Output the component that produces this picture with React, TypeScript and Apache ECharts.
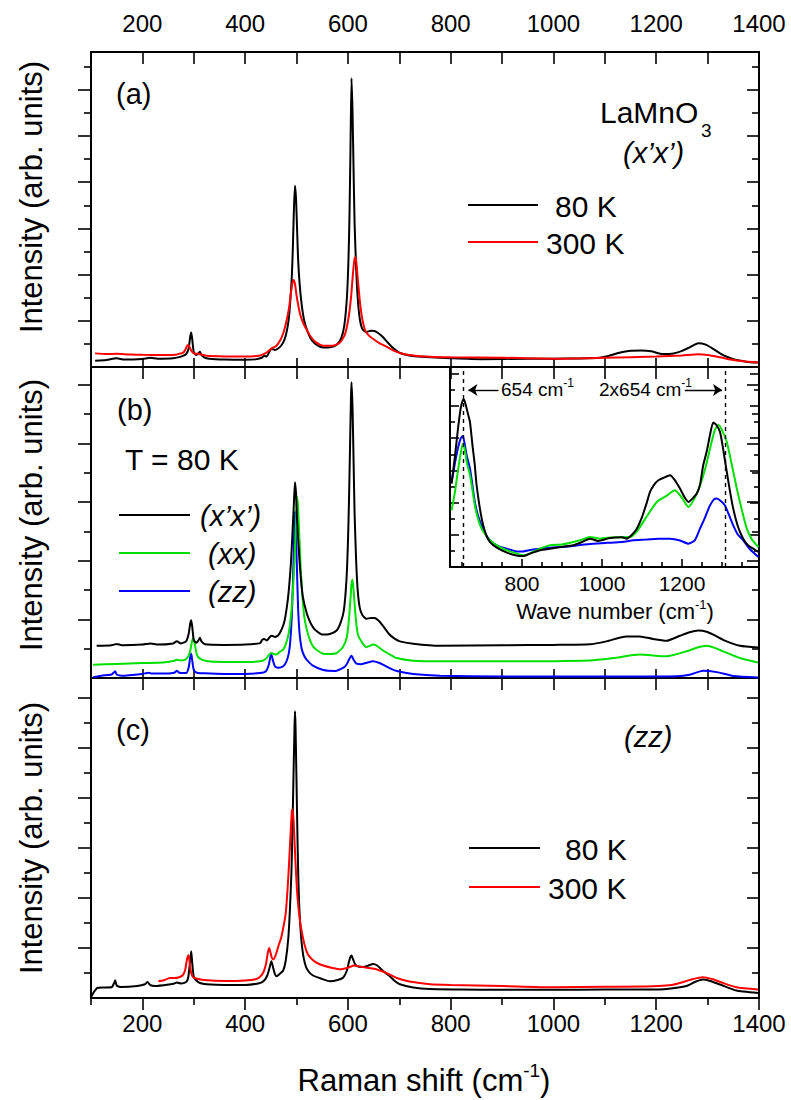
import React, { useEffect, useRef } from 'react';
import * as echarts from 'echarts';

// ---------- DATA (Raman shift in cm-1, intensity in arbitrary units) ----------
// Panel (a): LaMnO3 (x'x'), 80 K and 300 K
const panelA_80K: [number, number][] = [
  [108,0.27],[130,0.30],[150,0.38],[165,0.32],[200,0.35],[215,0.40],[230,0.36],[260,0.38],[275,0.45],[285,0.55],
  [290,0.80],[293,1.30],[295,1.49],[297,1.20],[300,0.65],[305,0.52],[309,0.58],[312,0.66],[315,0.52],[320,0.42],
  [330,0.36],[360,0.32],[400,0.31],[420,0.33],[432,0.40],[437,0.48],[442,0.46],[448,0.70],[452,0.78],[458,0.74],
  [464,0.80],[470,0.92],[476,1.15],[481,1.55],[485,2.1],[488,2.9],[491,4.0],[493,5.3],[495,6.9],[497,7.85],
  [499,7.3],[501,6.0],[503,4.7],[506,3.6],[510,2.7],[515,2.0],[522,1.5],[530,1.15],[540,0.95],[552,0.84],
  [565,0.85],[578,0.96],[587,1.25],[593,1.8],[598,3.0],[601,4.6],[603,6.5],[605,9.5],[607,12.5],[609,11.0],
  [611,8.5],[613,6.2],[616,4.3],[619,3.0],[623,2.1],[628,1.65],[635,1.52],[645,1.57],[652,1.56],[660,1.45],
  [668,1.30],[678,1.05],[688,0.82],[700,0.62],[715,0.52],[730,0.47],[760,0.42],[800,0.38],[860,0.34],[950,0.36],
  [1000,0.36],[1050,0.37],[1090,0.40],[1110,0.50],[1130,0.63],[1150,0.70],[1170,0.71],[1190,0.68],[1213,0.56],
  [1230,0.57],[1250,0.70],[1265,0.85],[1282,1.03],[1295,0.98],[1310,0.80],[1325,0.58],[1340,0.42],[1356,0.30],
  [1375,0.23],[1398,0.19],
];
const panelA_300K: [number, number][] = [
  [108,0.59],[130,0.56],[150,0.57],[175,0.54],[200,0.53],[240,0.52],[265,0.53],[272,0.58],[278,0.60],[283,0.72],
  [286,0.88],[289,0.95],[292,0.85],[296,0.68],[302,0.57],[308,0.58],[312,0.55],[325,0.49],[360,0.46],[400,0.45],
  [429,0.50],[440,0.60],[447,0.72],[452,0.82],[460,0.90],[468,1.15],[474,1.45],[480,1.95],[485,2.5],[489,3.2],
  [492,3.65],[494,3.77],[497,3.6],[500,3.1],[504,2.6],[508,2.2],[514,1.85],[520,1.6],[528,1.3],[536,1.1],
  [552,0.92],[570,0.92],[584,1.05],[594,1.40],[601,2.10],[606,3.0],[610,4.1],[613,4.7],[615,4.75],[617,4.4],
  [620,3.6],[623,2.9],[627,2.2],[633,1.62],[640,1.38],[650,1.20],[662,1.02],[675,0.88],[690,0.70],[710,0.55],
  [740,0.47],[800,0.42],[900,0.40],[1000,0.36],[1100,0.40],[1200,0.45],[1250,0.50],[1282,0.55],[1300,0.52],
  [1324,0.42],[1350,0.30],[1375,0.24],[1398,0.19],
];

// Panel (b): T = 80 K, three polarizations
const panelB_xpxp: [number, number][] = [
  [111,1.10],[140,1.12],[150,1.16],[160,1.12],[200,1.14],[216,1.18],[230,1.14],[260,1.18],[267,1.25],[275,1.18],
  [285,1.25],[290,1.50],[293,1.85],[295,1.97],[297,1.75],[300,1.30],[305,1.20],[309,1.28],[312,1.37],[315,1.25],
  [322,1.15],[360,1.13],[400,1.14],[429,1.19],[433,1.30],[437,1.33],[442,1.28],[448,1.40],[452,1.44],[458,1.40],
  [464,1.45],[470,1.62],[476,1.90],[481,2.40],[485,3.0],[489,3.9],[492,4.9],[495,6.0],[497,6.68],[499,6.3],
  [501,5.4],[504,4.5],[507,3.7],[512,2.8],[520,2.2],[528,1.85],[536,1.65],[552,1.48],[565,1.50],[578,1.62],
  [586,1.90],[592,2.3],[597,3.3],[600,4.6],[602,6.0],[604,7.8],[606,9.6],[607,10.09],[609,9.2],[611,7.4],
  [613,5.6],[616,4.0],[619,3.0],[623,2.4],[628,2.15],[636,2.02],[645,2.05],[652,2.05],[660,1.95],[669,1.76],
  [680,1.50],[690,1.35],[701,1.25],[727,1.17],[779,1.10],[900,1.12],[1000,1.13],[1071,1.15],[1103,1.25],
  [1142,1.42],[1168,1.42],[1194,1.33],[1220,1.27],[1246,1.44],[1265,1.56],[1282,1.62],[1298,1.58],[1311,1.48],
  [1337,1.25],[1363,1.10],[1398,1.04],
];
const panelB_xx: [number, number][] = [
  [104,0.45],[150,0.48],[200,0.51],[240,0.53],[260,0.58],[267,0.62],[275,0.60],[285,0.64],[292,0.85],[296,1.20],
  [299,1.37],[302,1.15],[306,0.80],[312,0.66],[325,0.58],[360,0.55],[400,0.55],[429,0.57],[440,0.65],[447,0.80],
  [451,0.85],[456,0.82],[461,0.80],[468,0.90],[474,0.97],[480,1.20],[485,1.55],[489,2.1],[493,3.0],[496,4.0],
  [499,5.3],[501,6.18],[503,5.8],[506,4.6],[508,3.8],[511,2.9],[515,2.1],[520,1.65],[526,1.30],[532,1.08],
  [542,0.92],[552,0.83],[565,0.82],[578,0.85],[590,1.05],[598,1.40],[602,2.0],[605,2.7],[607,3.2],[609,3.35],
  [611,3.0],[614,2.3],[617,1.75],[620,1.45],[628,1.20],[636,1.05],[643,1.10],[649,1.14],[656,1.10],[669,0.93],
  [682,0.80],[695,0.68],[727,0.59],[779,0.57],[900,0.57],[1071,0.60],[1116,0.68],[1168,0.80],[1220,0.74],
  [1259,0.91],[1280,1.04],[1298,1.10],[1315,1.02],[1330,0.91],[1363,0.68],[1398,0.53],
];
const panelB_zz: [number, number][] = [
  [104,0.03],[120,0.08],[140,0.12],[145,0.20],[147,0.23],[150,0.12],[160,0.08],[200,0.14],[212,0.18],[218,0.15],
  [240,0.15],[262,0.18],[267,0.25],[272,0.18],[285,0.17],[290,0.35],[293,0.70],[295,0.83],[297,0.60],[300,0.28],
  [306,0.18],[320,0.16],[360,0.14],[400,0.14],[429,0.17],[440,0.22],[446,0.45],[449,0.72],[451,0.80],[454,0.60],
  [458,0.40],[465,0.35],[474,0.40],[480,0.55],[485,0.85],[488,1.3],[491,2.2],[493,3.3],[495,4.6],[497,5.69],
  [499,4.9],[501,3.6],[503,2.4],[506,1.5],[510,1.0],[515,0.75],[520,0.62],[532,0.42],[552,0.27],[575,0.24],
  [592,0.36],[598,0.48],[603,0.66],[607,0.76],[611,0.62],[616,0.50],[625,0.47],[636,0.52],[649,0.57],[660,0.52],
  [669,0.45],[682,0.33],[695,0.24],[727,0.14],[779,0.08],[900,0.05],[1100,0.05],[1240,0.06],[1265,0.11],
  [1291,0.25],[1318,0.20],[1350,0.07],[1398,0.02],
];

// Panel (c): (zz), 80 K and 300 K
const panelC_80K: [number, number][] = [
  [101,0.07],[106,0.25],[112,0.40],[125,0.42],[140,0.43],[145,0.60],[147,0.71],[150,0.50],[158,0.44],[190,0.48],
  [205,0.55],[210,0.64],[215,0.52],[225,0.48],[255,0.55],[262,0.58],[267,0.62],[275,0.58],[285,0.64],[289,0.80],
  [292,1.30],[295,1.87],[297,1.40],[300,0.85],[305,0.70],[312,0.60],[325,0.55],[360,0.52],[400,0.52],[429,0.60],
  [437,0.70],[443,0.90],[448,1.25],[451,1.47],[454,1.25],[458,0.95],[461,0.87],[468,0.98],[474,1.10],[479,1.50],
  [484,2.4],[487,3.5],[490,5.0],[492,6.7],[494,8.8],[496,10.8],[497,11.47],[498,10.9],[500,8.6],[502,6.2],
  [504,4.4],[507,3.0],[511,2.0],[516,1.40],[522,1.10],[532,0.90],[550,0.76],[565,0.67],[580,0.72],[591,0.82],
  [598,1.10],[602,1.45],[605,1.65],[607,1.70],[610,1.55],[614,1.35],[620,1.26],[630,1.24],[640,1.30],[649,1.36],
  [657,1.30],[669,1.07],[680,0.90],[690,0.70],[701,0.55],[727,0.42],[760,0.36],[820,0.34],[900,0.33],[1000,0.33],
  [1100,0.34],[1194,0.34],[1220,0.36],[1259,0.48],[1275,0.64],[1291,0.74],[1305,0.68],[1324,0.54],[1356,0.30],
  [1398,0.20],
];
const panelC_300K: [number, number][] = [
  [231,0.67],[240,0.70],[254,0.80],[262,0.80],[270,0.82],[278,0.90],[283,1.10],[286,1.45],[289,1.71],[291,1.60],
  [294,1.10],[298,0.85],[305,0.78],[320,0.72],[360,0.68],[400,0.70],[420,0.75],[429,0.85],[436,1.05],[441,1.40],
  [444,1.80],[447,2.00],[449,1.85],[452,1.60],[455,1.54],[460,1.75],[465,2.10],[470,2.40],[475,2.90],[479,3.40],
  [483,4.5],[486,5.6],[489,6.8],[491,7.5],[492,7.54],[494,7.2],[496,6.3],[499,5.0],[502,4.0],[506,3.2],
  [510,2.67],[516,2.10],[522,1.75],[530,1.55],[540,1.40],[552,1.30],[570,1.20],[586,1.15],[598,1.20],[605,1.25],
  [611,1.30],[625,1.25],[640,1.20],[655,1.15],[669,1.05],[680,0.95],[695,0.80],[720,0.66],[760,0.55],[800,0.52],
  [900,0.48],[999,0.43],[1100,0.45],[1194,0.47],[1230,0.52],[1246,0.60],[1270,0.75],[1291,0.83],[1310,0.75],
  [1330,0.60],[1356,0.43],[1398,0.34],
];

// Inset: wave number (cm-1), 80 K
const inset_xpxp: [number, number][] = [
  [624,5.18],[632,6.8],[640,8.6],[647,9.9],[652,10.35],[655,10.4],[660,10.0],[665,9.5],[670,9.0],[676,7.6],
  [682,6.32],[686,5.2],[691,4.25],[697,3.3],[703,2.59],[711,1.95],[720,1.55],[737,1.20],[762,0.89],[780,0.75],
  [795,0.68],[808,0.70],[820,0.83],[845,1.04],[870,1.14],[900,1.25],[928,1.35],[950,1.55],[970,1.76],[990,1.62],
  [1020,1.80],[1050,1.85],[1062,1.76],[1075,2.0],[1087,2.38],[1100,3.1],[1112,4.0],[1120,4.66],[1130,5.1],
  [1141,5.39],[1155,5.55],[1170,5.70],[1182,5.40],[1195,4.87],[1206,4.35],[1216,4.04],[1228,4.3],[1237,4.56],
  [1245,5.1],[1253,6.32],[1262,7.2],[1270,8.2],[1278,8.97],[1285,8.85],[1295,8.39],[1303,7.3],[1312,5.9],
  [1320,4.7],[1328,3.63],[1340,2.5],[1353,1.76],[1365,1.35],[1378,1.14],[1391,0.93],
];
const inset_xx: [number, number][] = [
  [624,3.52],[632,4.6],[640,6.0],[647,7.1],[652,7.66],[657,7.3],[662,6.5],[670,5.7],[676,4.8],[682,3.83],
  [690,3.0],[699,2.38],[710,1.95],[720,1.66],[740,1.30],[762,1.04],[785,0.85],[803,0.73],[820,0.85],[845,1.14],
  [870,1.35],[900,1.40],[928,1.55],[950,1.70],[970,1.86],[995,1.76],[1030,1.85],[1070,1.86],[1087,2.2],
  [1103,2.80],[1120,3.45],[1137,4.04],[1160,4.4],[1182,4.76],[1200,4.3],[1216,3.73],[1230,4.2],[1245,5.07],
  [1258,6.1],[1270,7.35],[1282,8.5],[1291,8.84],[1300,8.5],[1312,7.76],[1325,6.3],[1337,4.87],[1350,3.5],
  [1362,2.38],[1375,1.7],[1391,1.24],
];
const inset_zz: [number, number][] = [
  [624,5.28],[632,6.4],[640,7.4],[647,8.0],[652,8.14],[657,7.6],[662,6.9],[670,6.11],[676,5.1],[682,4.04],
  [690,3.2],[699,2.59],[710,2.0],[720,1.66],[740,1.30],[762,1.14],[787,0.97],[803,0.97],[820,1.05],[845,1.14],
  [870,1.20],[900,1.24],[928,1.30],[950,1.38],[978,1.45],[1012,1.50],[1050,1.55],[1078,1.66],[1110,1.70],
  [1140,1.75],[1170,1.76],[1195,1.65],[1216,1.45],[1232,1.65],[1245,2.38],[1258,3.1],[1270,3.83],[1280,4.2],
  [1287,4.25],[1297,4.1],[1307,3.83],[1318,3.2],[1328,2.59],[1340,2.0],[1353,1.66],[1370,1.1],[1391,0.62],
];

// Tick values
const mainTopTicks = [200, 300, 400, 500, 600, 700, 800, 900, 1000, 1100, 1200, 1300];
const mainTickLabels = [200, 400, 600, 800, 1000, 1200, 1400];
const mainBottomMinor = [100, 300, 500, 700, 900, 1100, 1300];
const mainBottomMajor = [200, 400, 600, 800, 1000, 1200, 1400];
const insetMinorTicks = [650, 700, 750, 850, 900, 950, 1050, 1100, 1150, 1250, 1300, 1350];
const insetMajorTicks = [800, 1000, 1200];
const insetDashed = [654, 1308];

// ---------- STYLE ----------
const FONT = "'Liberation Sans', Arial, Helvetica, sans-serif";
const BLACK = '#000000';
const RED = '#ff0000';
const GREEN = '#00e000';
const BLUE = '#0000ff';

const GRIDS = [
  { left: 91, top: 52, width: 668, height: 315 },
  { left: 91, top: 367, width: 668, height: 311 },
  { left: 91, top: 678, width: 668, height: 320 },
  { left: 450, top: 367, width: 309, height: 200 },
];
const YMAX = [13.64, 10.61, 12.8, 12.42];

function ints(from: number, to: number, step: number): number[] {
  const r: number[] = [];
  for (let v = from; v <= to; v += step) r.push(v);
  return r;
}

const plain = (v: number) => String(v);

function xAx(grid: number, position: 'top' | 'bottom', min: number, max: number, ticks: number[] | null,
  inside: boolean, len: number, labels?: number[], labelSize?: number, margin?: number) {
  return {
    type: 'value', gridIndex: grid, position, min, max,
    axisLine: { show: true, onZero: false, lineStyle: { color: BLACK, width: 2 } },
    splitLine: { show: false },
    axisTick: ticks ? { show: true, inside, length: len, customValues: ticks, lineStyle: { color: BLACK, width: 1.6 } } : { show: false },
    axisLabel: labels
      ? { show: true, customValues: labels, formatter: plain, fontSize: labelSize, fontFamily: FONT, color: BLACK, margin }
      : { show: false },
  };
}
function yAx(grid: number, position: 'left' | 'right', max: number, ticks: number[], inside: boolean, len: number) {
  return {
    type: 'value', gridIndex: grid, position, min: 0, max,
    axisLine: { show: true, onZero: false, lineStyle: { color: BLACK, width: 2 } },
    splitLine: { show: false },
    axisTick: { show: true, inside, length: len, customValues: ticks, lineStyle: { color: BLACK, width: 1.6 } },
    axisLabel: { show: false },
  };
}

function buildOption() {
  const xAxis: any[] = [
    xAx(0, 'bottom', 100, 1400, mainTopTicks, true, 9),
    xAx(0, 'top', 100, 1400, mainTopTicks, true, 12, mainTickLabels, 24, 17),
    xAx(1, 'bottom', 100, 1400, mainTopTicks, true, 9),
    xAx(1, 'top', 100, 1400, mainTopTicks, true, 12),
    xAx(2, 'bottom', 100, 1400, mainBottomMinor, false, 7),
    xAx(2, 'bottom', 100, 1400, mainBottomMajor, false, 12, mainTickLabels, 24, 13),
    xAx(2, 'top', 100, 1400, mainTopTicks, true, 12),
    xAx(3, 'bottom', 620, 1392.5, insetMinorTicks, true, 5),
    xAx(3, 'bottom', 620, 1392.5, insetMajorTicks, true, 8, insetMajorTicks, 21, 6),
    xAx(3, 'top', 620, 1392.5, null, true, 0),
  ];
  const yAxis: any[] = [];
  for (let g = 0; g < 4; g++) {
    const max = YMAX[g];
    const top = Math.floor(max);
    const odd = ints(1, top, 2);
    const even = ints(2, top, 2);
    const inset = g === 3;
    yAxis.push(yAx(g, 'left', max, odd, inset, inset ? 5 : 7));
    yAxis.push(yAx(g, 'left', max, even, inset, inset ? 9 : 13));
    yAxis.push(yAx(g, 'right', max, odd, true, inset ? 5 : 7));
    yAxis.push(yAx(g, 'right', max, even, true, inset ? 9 : 12));
  }

  const line = (name: string, data: [number, number][], color: string, xi: number, yi: number, extra: any = {}) => ({
    type: 'line', name, data, xAxisIndex: xi, yAxisIndex: yi,
    showSymbol: false, symbol: 'none', smooth: 0.2, silent: true,
    lineStyle: { color, width: 2 }, itemStyle: { color },
    ...extra,
  });

  const series: any[] = [
    line('80 K', panelA_80K, BLACK, 0, 0),
    line('300 K', panelA_300K, RED, 0, 0),
    line('(zz)', panelB_zz, BLUE, 2, 4),
    line('(xx)', panelB_xx, GREEN, 2, 4),
    line("(x'x')", panelB_xpxp, BLACK, 2, 4),
    line('80 K', panelC_80K, BLACK, 4, 8),
    line('300 K', panelC_300K, RED, 4, 8),
    line('(zz)', inset_zz, BLUE, 7, 12, {
      markLine: {
        silent: true, symbol: ['none', 'arrow'], symbolSize: 9, label: { show: false },
        lineStyle: { color: BLACK, width: 1.4, type: 'solid' },
        data: [
          [{ coord: [741, 10.99] }, { coord: [666, 10.99] }],
          [{ coord: [1207, 10.99] }, { coord: [1300, 10.99] }],
        ],
      },
    }),
    line('(xx)', inset_xx, GREEN, 7, 12),
    line("(x'x')", inset_xpxp, BLACK, 7, 12, {
      markLine: {
        silent: true, symbol: ['none', 'none'], label: { show: false },
        lineStyle: { color: BLACK, width: 1.4, type: [4, 4] },
        data: insetDashed.map((v) => ({ xAxis: v })),
      },
    }),
  ];

  const txt = (text: string, x: number, y: number, size: number, extra: any = {}) => ({
    type: 'text', x, y, silent: true,
    style: { text, fontSize: size, fontFamily: FONT, fill: BLACK, align: 'left', verticalAlign: 'middle', ...extra },
  });
  const seg = (x1: number, y1: number, x2: number, y2: number, color: string) => ({
    type: 'line', silent: true, shape: { x1, y1, x2, y2 }, style: { stroke: color, lineWidth: 2 },
  });
  const supRich = (main: number, sup: number, lh: number) => ({
    m: { fontSize: main, lineHeight: lh, fontFamily: FONT, fill: BLACK },
    s: { fontSize: sup, lineHeight: sup, verticalAlign: 'top', fontFamily: FONT, fill: BLACK },
  });

  const graphic: any[] = [
    // panel (a)
    txt('(a)', 116, 94, 29),
    txt('LaMnO', 600, 112, 30),
    txt('3', 701, 130, 19),
    txt('(x’x’)', 623, 153, 29, { fontStyle: 'italic' }),
    seg(468, 205, 538, 205, BLACK),
    txt('80 K', 555, 206, 30),
    seg(468, 242, 538, 242, RED),
    txt('300 K', 546, 243, 30),
    // panel (b)
    txt('(b)', 117, 410, 29),
    txt('T = 80 K', 125, 459, 30),
    seg(119, 515, 190, 515, BLACK),
    txt('(x’x’)', 200, 516, 29, { fontStyle: 'italic' }),
    seg(119, 553, 190, 553, GREEN),
    txt('(xx)', 208, 554, 29, { fontStyle: 'italic' }),
    seg(119, 591, 190, 591, BLUE),
    txt('(zz)', 208, 592, 29, { fontStyle: 'italic' }),
    // inset annotations
    { type: 'text', x: 501, y: 389, silent: true, style: { text: '{m|654 cm}{s|-1}', rich: supRich(19, 12, 24), align: 'left', verticalAlign: 'middle' } },
    { type: 'text', x: 599, y: 389, silent: true, style: { text: '{m|2x654 cm}{s|-1}', rich: supRich(19, 12, 24), align: 'left', verticalAlign: 'middle' } },
    { type: 'text', x: 615, y: 611, silent: true, style: { text: '{m|Wave number (cm}{s|-1}{m|)}', rich: supRich(22, 13, 26), align: 'center', verticalAlign: 'middle' } },
    // panel (c)
    txt('(c)', 116, 730, 29),
    txt('(zz)', 624, 737, 29, { fontStyle: 'italic' }),
    seg(469, 848, 540, 848, BLACK),
    txt('80 K', 565, 849, 30),
    seg(469, 887, 540, 887, RED),
    txt('300 K', 548, 888, 30),
    // axis titles
    { type: 'text', x: 31, y: 197, rotation: Math.PI / 2, silent: true, style: { text: 'Intensity (arb. units)', fontSize: 31, fontFamily: FONT, fill: BLACK, align: 'center', verticalAlign: 'middle' } },
    { type: 'text', x: 31, y: 515, rotation: Math.PI / 2, silent: true, style: { text: 'Intensity (arb. units)', fontSize: 31, fontFamily: FONT, fill: BLACK, align: 'center', verticalAlign: 'middle' } },
    { type: 'text', x: 31, y: 838, rotation: Math.PI / 2, silent: true, style: { text: 'Intensity (arb. units)', fontSize: 31, fontFamily: FONT, fill: BLACK, align: 'center', verticalAlign: 'middle' } },
    { type: 'text', x: 424, y: 1080, silent: true, style: { text: '{m|Raman shift (cm}{s|-1}{m|)}', rich: supRich(31, 19, 38), align: 'center', verticalAlign: 'middle' } },
  ];

  return {
    animation: false,
    backgroundColor: '#ffffff',
    textStyle: { fontFamily: FONT },
    grid: GRIDS.map((g) => ({ ...g, containLabel: false, outerBoundsMode: 'none', show: false })),
    xAxis, yAxis, series, graphic,
  };
}

export default function App() {
  const ref = useRef<HTMLDivElement>(null);
  useEffect(() => {
    if (!ref.current) return;
    const chart = echarts.init(ref.current, null, { renderer: 'svg' });
    chart.setOption(buildOption() as any);
    return () => chart.dispose();
  }, []);
  return (
    <div
      ref={ref}
      style={{ position: 'fixed', left: 0, top: 0, width: 791, height: 1100, background: '#ffffff' }}
    />
  );
}
